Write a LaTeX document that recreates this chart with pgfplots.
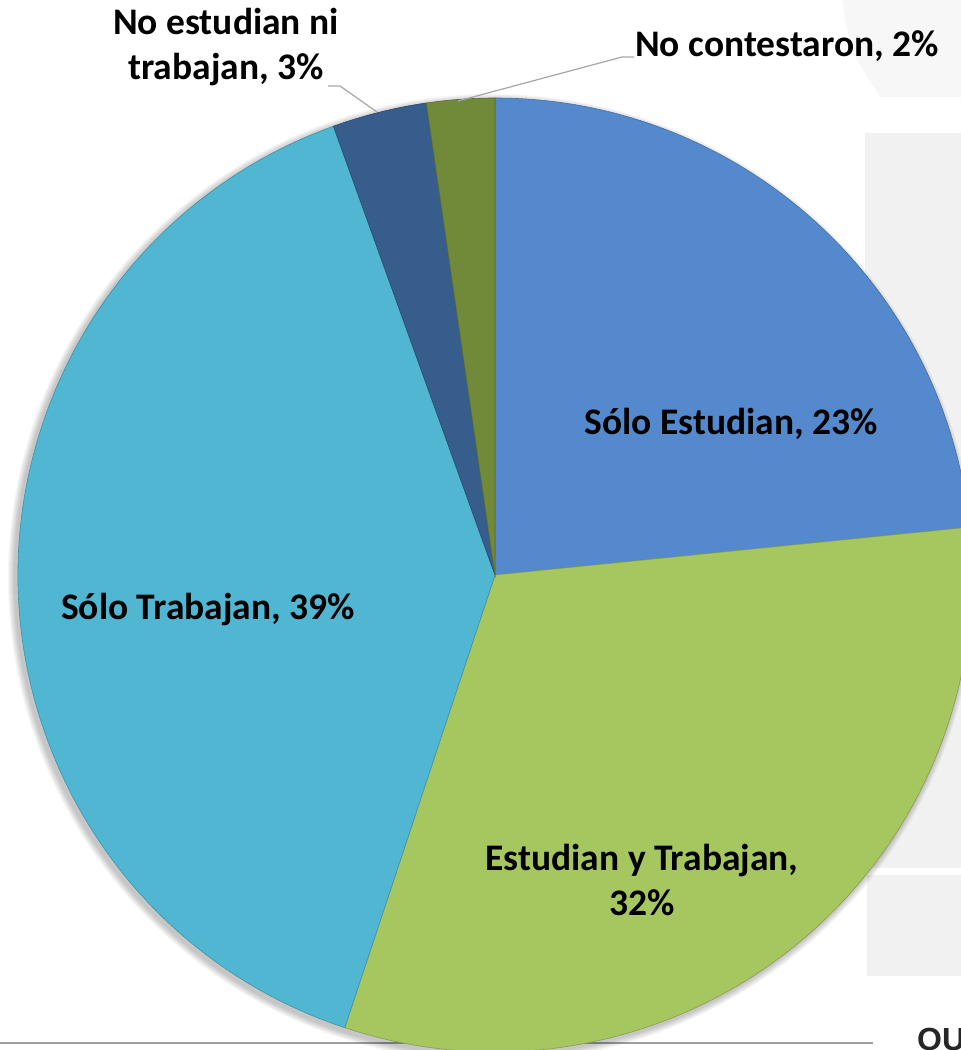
\documentclass[border=0pt]{standalone}
\usepackage{pgfplots}
\pgfplotsset{compat=1.18}
\usepackage{pgfplotstable}
\usepackage{fontspec}
\setmainfont{Carlito}
\newfontfamily\logofont{Liberation Sans}

\definecolor{cSE}{RGB}{84,138,205}
\definecolor{cET}{RGB}{166,198,96}
\definecolor{cST}{RGB}{80,182,210}
\definecolor{cNN}{RGB}{55,93,140}
\definecolor{cNC}{RGB}{112,138,58}
\definecolor{bggray}{RGB}{242,241,241}
\definecolor{leader}{RGB}{166,166,166}

% shares in percent, clockwise from 12 o'clock
\pgfplotstableread{
share
23.4
31.7
39.4
3.2
2.3
}\piedata

\newcommand\lbl{\fontsize{37.5}{45}\selectfont\bfseries}

\begin{document}
\begin{tikzpicture}
% cumulative angles
\pgfplotstablegetelem{0}{share}\of\piedata \pgfmathsetmacro\aA{90-3.6*\pgfplotsretval}
\pgfplotstablegetelem{1}{share}\of\piedata \pgfmathsetmacro\aB{\aA-3.6*\pgfplotsretval}
\pgfplotstablegetelem{2}{share}\of\piedata \pgfmathsetmacro\aC{\aB-3.6*\pgfplotsretval}
\pgfplotstablegetelem{3}{share}\of\piedata \pgfmathsetmacro\aD{\aC-3.6*\pgfplotsretval}
\pgfplotstablegetelem{4}{share}\of\piedata \pgfmathsetmacro\aE{\aD-3.6*\pgfplotsretval}
\def\R{477pt}
\begin{axis}[
    name=ax,
    hide axis,
    scale only axis,
    x=1pt, y=1pt,
    xmin=0, xmax=961, ymin=0, ymax=1050,
    clip=true,
]
% slide background
\fill[bggray!60] (axis cs:842,1050) .. controls (axis cs:850,1000) .. (axis cs:880,953) -- (axis cs:961,953) -- (axis cs:961,1050) -- cycle;
\fill[bggray] (axis cs:865,182) rectangle (axis cs:961,917);
\fill[bggray] (axis cs:867,74) rectangle (axis cs:961,175);
\draw[gray!75, line width=2.5pt] (axis cs:0,7) -- (axis cs:873,7);
\node[anchor=north west, inner sep=0pt, font=\logofont\fontsize{32}{32}\selectfont\bfseries, text=black!85]
    at (axis cs:917,22) {QU};

% soft shadow
\pgfplotsinvokeforeach{1,...,7}{
  \fill[black, opacity=0.035] (axis cs:492,472) circle[radius=477pt+#1pt];
}

% wedges
\fill[cSE, draw=cSE!80!black, line width=0.6pt] (axis cs:495,475) -- ++(90:\R) arc[start angle=90, end angle=\aA, radius=\R] -- cycle;
\fill[cET, draw=cET!80!black, line width=0.6pt] (axis cs:495,475) -- ++(\aA:\R) arc[start angle=\aA, end angle=\aB, radius=\R] -- cycle;
\fill[cST, draw=cST!80!black, line width=0.6pt] (axis cs:495,475) -- ++(\aB:\R) arc[start angle=\aB, end angle=\aC, radius=\R] -- cycle;
\fill[cNN, draw=cNN!80!black, line width=0.6pt] (axis cs:495,475) -- ++(\aC:\R) arc[start angle=\aC, end angle=\aD, radius=\R] -- cycle;
\fill[cNC, draw=cNC!80!black, line width=0.6pt] (axis cs:495,475) -- ++(\aD:\R) arc[start angle=\aD, end angle=\aE, radius=\R] -- cycle;

% leader lines
\draw[leader, line width=1.2pt] (axis cs:458,949) -- (axis cs:622,993) -- (axis cs:634,993);
\draw[leader, line width=1.2pt] (axis cs:328,964) -- (axis cs:340,964) -- (axis cs:377,938);

% labels
\node[anchor=base, font=\lbl] at (axis cs:731,615) {Sólo Estudian, 23\%};
\node[anchor=base, font=\lbl] at (axis cs:208,430) {Sólo Trabajan, 39\%};
\node[anchor=base, font=\lbl] at (axis cs:642,179) {Estudian y Trabajan,};
\node[anchor=base, font=\lbl] at (axis cs:642,134) {32\%};
\node[anchor=base, font=\lbl] at (axis cs:226,1015) {No estudian ni};
\node[anchor=base, font=\lbl] at (axis cs:226,970) {trabajan, 3\%};
\node[anchor=base, font=\lbl] at (axis cs:787,993) {No contestaron, 2\%};
\end{axis}
\pgfresetboundingbox
\path[use as bounding box] (ax.south west) rectangle (ax.north east);
\end{tikzpicture}
\end{document}
